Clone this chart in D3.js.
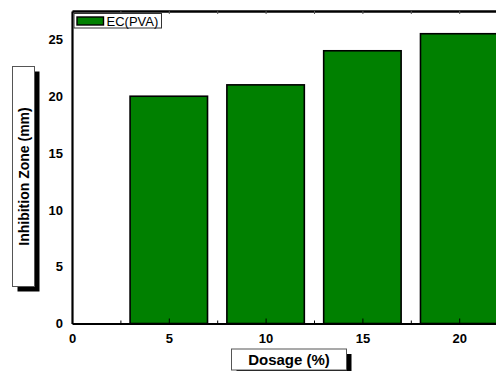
<!DOCTYPE html>
<html>
<head>
<meta charset="utf-8">
<script src="https://cdn.jsdelivr.net/npm/d3@7"></script>
<style>
  html, body { margin: 0; padding: 0; background: #fff; }
  svg { display: block; font-family: "Liberation Sans", Arial, sans-serif; }
</style>
</head>
<body>
<svg id="chart" width="496" height="371"></svg>
<script>
// Inhibition zone diameter for each EC(PVA) dosage
const dosages = [5, 10, 15, 20];
const zoneMM = [20, 21, 24, 25.5];
const seriesName = "EC(PVA)";
const xTicks = [0, 5, 10, 15, 20];
const yTicks = [0, 5, 10, 15, 20, 25];
const xMinorTicks = [2.5, 7.5, 12.5, 17.5, 22.5];
const xTitle = "Dosage (%)";
const yTitle = "Inhibition Zone (mm)";

const svg = d3.select("#chart");
const W = 496, H = 371;
const plot = { left: 72, top: 11, bottom: 323.5 };

const x = d3.scaleLinear().domain([0, 25]).range([plot.left, plot.left + 25 * 19.36]);
const y = d3.scaleLinear().domain([0, 27.5]).range([plot.bottom, plot.top]);
const barWidth = 4; // in dosage units

// Bars
svg.append("g").selectAll("rect")
  .data(dosages.map((d, i) => ({ d, v: zoneMM[i] })))
  .join("rect")
  .attr("x", p => x(p.d - barWidth / 2))
  .attr("y", p => y(p.v))
  .attr("width", p => x(p.d + barWidth / 2) - x(p.d - barWidth / 2))
  .attr("height", p => y(0) - y(p.v))
  .attr("fill", "#008000")
  .attr("stroke", "#000")
  .attr("stroke-width", 1.6);

// Bottom axis (ticks pointing inward)
const bottomAxis = d3.axisBottom(x).tickValues(xTicks).tickSizeInner(-5).tickSizeOuter(0).tickFormat(d3.format("d"));
const gb = svg.append("g").attr("transform", `translate(0,${plot.bottom})`).call(bottomAxis);
gb.select(".domain").attr("stroke-width", 2);
gb.selectAll(".tick line").attr("stroke-width", 1);
gb.selectAll(".tick text").attr("y", 10).attr("dy", "0.71em")
  .attr("font-size", 13).attr("font-weight", "bold").attr("fill", "#000")
  .attr("font-family", "Liberation Sans, Arial, sans-serif");

const gbm = svg.append("g").attr("transform", `translate(0,${plot.bottom})`)
  .call(d3.axisBottom(x).tickValues(xMinorTicks).tickSizeInner(-3).tickSizeOuter(0).tickFormat(""));
gbm.select(".domain").remove();

// Top axis border with inward minor ticks
const gt = svg.append("g").attr("transform", `translate(0,${plot.top})`)
  .call(d3.axisTop(x).tickValues(d3.range(0, 25.01, 2.5)).tickSizeInner(-3).tickSizeOuter(0).tickFormat(""));
gt.select(".domain").attr("stroke-width", 2.5);
gt.selectAll(".tick line").attr("stroke", "#555");

// Left axis
const gl = svg.append("g").attr("transform", `translate(${plot.left},0)`)
  .call(d3.axisLeft(y).tickValues(yTicks).tickSize(0).tickPadding(9).tickFormat(d3.format("d")));
gl.select(".domain").attr("stroke-width", 2.2);
gl.selectAll(".tick text").attr("font-size", 13).attr("font-weight", "bold").attr("fill", "#000")
  .attr("font-family", "Liberation Sans, Arial, sans-serif");

// Legend
const lg = svg.append("g");
lg.append("rect").attr("x", 74).attr("y", 13.5).attr("width", 87.5).attr("height", 14.5)
  .attr("fill", "#fff").attr("stroke", "#333").attr("stroke-width", 1);
lg.append("rect").attr("x", 77).attr("y", 17).attr("width", 26.5).attr("height", 8)
  .attr("fill", "#008000").attr("stroke", "#000").attr("stroke-width", 1.4);
lg.append("text").attr("x", 106.5).attr("y", 25.5).attr("font-size", 13).attr("fill", "#000")
  .text(seriesName);

// Axis title boxes with drop shadows
function titleBox(bx, by, bw, bh) {
  svg.append("rect").attr("x", bx + 5).attr("y", by + 5).attr("width", bw).attr("height", bh).attr("fill", "#000");
  svg.append("rect").attr("x", bx).attr("y", by).attr("width", bw).attr("height", bh)
    .attr("fill", "#fff").attr("stroke", "#555").attr("stroke-width", 1);
}

titleBox(12.5, 66.5, 22, 220);
svg.append("text")
  .attr("transform", `translate(28.5,176.5) rotate(-90)`)
  .attr("text-anchor", "middle").attr("font-size", 14).attr("font-weight", "bold").attr("fill", "#000")
  .text(yTitle);

titleBox(231.5, 349, 115, 21);
svg.append("text")
  .attr("x", 289).attr("y", 365)
  .attr("text-anchor", "middle").attr("font-size", 15).attr("font-weight", "bold").attr("fill", "#000")
  .text(xTitle);
</script>
</body>
</html>
